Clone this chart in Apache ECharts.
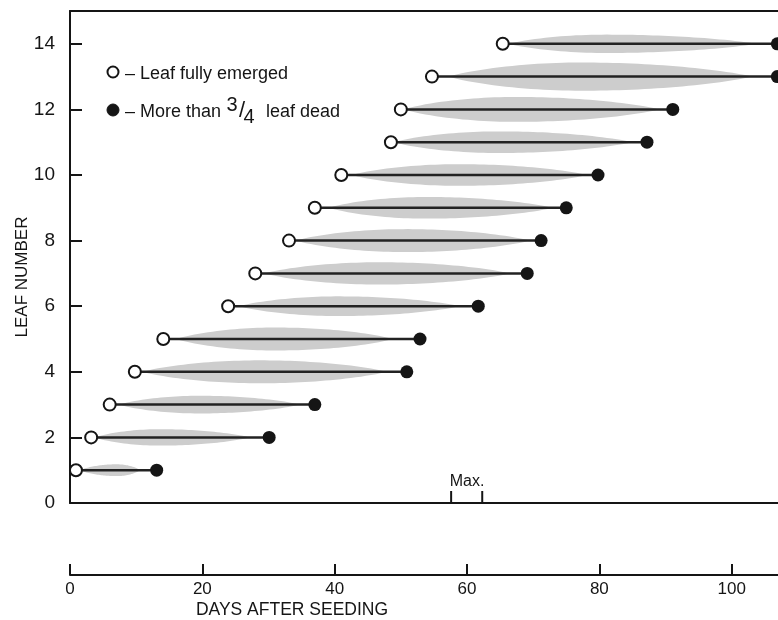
<!DOCTYPE html>
<html><head><meta charset="utf-8">
<script src="https://cdn.jsdelivr.net/npm/echarts@6/dist/echarts.min.js"></script>
<style>html,body{margin:0;padding:0;background:#fff}#c{width:778px;height:620px}</style>
</head><body><div id="c"></div>
<script>
// ---- data ----
const leaves   = [1,2,3,4,5,6,7,8,9,10,11,12,13,14];
const emerged  = [0.9,3.2,6.0,9.8,14.1,23.9,28.0,33.1,37.0,41.0,48.5,50.0,54.7,65.4];
const dead     = [13.1,30.1,37.0,50.9,52.9,61.7,69.1,71.2,75.0,79.8,87.2,91.1,106.9,106.9];
// spindle (leaf area band): start, widest point, end (days) and half-width (leaf units)
const spStart  = [1.5,3.8,7.5,11.0,16.1,25.6,29.4,34.2,39.2,42.7,49.0,50.5,57.3,66.4];
const spPeak   = [7.1,13.6,19.6,28.7,31.2,40.7,46.8,50.8,53.8,58.8,64.9,67.4,77.4,81.0];
const spEnd    = [10.6,27.1,34.7,47.8,48.7,58.8,66.4,69.4,72.9,78.0,84.9,89.0,103.0,103.6];
const spHalf   = [0.18,0.25,0.27,0.35,0.35,0.30,0.34,0.35,0.33,0.33,0.33,0.38,0.43,0.28];
const maxMarks = [57.6, 62.3];
const xTickStep = 20, yTickStep = 2;

const FONT = 'Liberation Sans';
const INK = '#151515';

const chart = echarts.init(document.getElementById('c'), null, {renderer:'canvas'});

const spData = leaves.map((l,i)=>[l, spStart[i], spPeak[i], spEnd[i], spHalf[i]]);
const lineData = leaves.map((l,i)=>[l, emerged[i], dead[i]]);

chart.setOption({
  animation:false,
  backgroundColor:'#fff',
  grid:{left:70, top:11, width:708, height:492},
  xAxis:[
    {type:'value', min:0, max:107, position:'bottom',
     axisLine:{show:true, onZero:false, lineStyle:{color:INK, width:2}},
     axisTick:{show:false}, axisLabel:{show:false}, splitLine:{show:false}},
    {type:'value', min:0, max:107, interval:xTickStep, position:'bottom', offset:72,
     axisLine:{show:true, onZero:false, lineStyle:{color:INK, width:2}},
     axisTick:{show:true, inside:true, length:11, lineStyle:{color:INK, width:2}},
     axisLabel:{show:true, margin:6, fontSize:17, color:INK, fontFamily:FONT, showMaxLabel:false,
       formatter:v=> (v%xTickStep===0 ? String(v) : '')},
     splitLine:{show:false}},
    {type:'value', min:0, max:107, position:'top',
     axisLine:{show:true, onZero:false, lineStyle:{color:INK, width:2}},
     axisTick:{show:false}, axisLabel:{show:false}, splitLine:{show:false}}
  ],
  yAxis:{type:'value', min:0, max:15, interval:yTickStep,
    axisLine:{show:true, onZero:false, lineStyle:{color:INK, width:2}},
    axisTick:{show:true, inside:true, length:12, lineStyle:{color:INK, width:2}},
    axisLabel:{margin:15, fontSize:19, color:INK, fontFamily:FONT, showMaxLabel:false,
      formatter:v=> (v%yTickStep===0 ? String(v) : '')},
    splitLine:{show:false}},
  graphic:[
    {type:'text', x:22, y:277, rotation:Math.PI/2, z:10,
     style:{text:'LEAF NUMBER', font:'17px '+FONT, fill:INK, textAlign:'center', textVerticalAlign:'middle'}},
    {type:'text', x:292, y:610, z:10,
     style:{text:'DAYS AFTER SEEDING', font:'17.5px '+FONT, fill:INK, textAlign:'center', textVerticalAlign:'middle'}},
    {type:'circle', shape:{cx:113, cy:72, r:5.5}, style:{fill:'#fff', stroke:INK, lineWidth:2}, z:10},
    {type:'text', x:125, y:74, z:10,
     style:{text:'\u2013 Leaf fully emerged', font:'18px '+FONT, fill:INK, textVerticalAlign:'middle'}},
    {type:'circle', shape:{cx:113, cy:110, r:6}, style:{fill:INK, stroke:INK, lineWidth:1}, z:10},
    {type:'text', x:125, y:112, z:10,
     style:{text:'\u2013 More than', font:'18px '+FONT, fill:INK, textVerticalAlign:'middle'}},
    {type:'text', x:232, y:105, z:10,
     style:{text:'3', font:'20px '+FONT, fill:INK, textAlign:'center', textVerticalAlign:'middle'}},
    {type:'text', x:242, y:111, z:10,
     style:{text:'/', font:'22px '+FONT, fill:INK, textAlign:'center', textVerticalAlign:'middle'}},
    {type:'text', x:249, y:117, z:10,
     style:{text:'4', font:'20px '+FONT, fill:INK, textAlign:'center', textVerticalAlign:'middle'}},
    {type:'text', x:266, y:112, z:10,
     style:{text:'leaf dead', font:'18px '+FONT, fill:INK, textVerticalAlign:'middle'}},
    {type:'text', x:467, y:482, z:10,
     style:{text:'Max.', font:'16px '+FONT, fill:INK, textAlign:'center', textVerticalAlign:'middle'}}
  ],
  series:[
    {type:'custom', name:'spindle', xAxisIndex:0, data:spData, encode:{x:[1,3], y:0}, z:1, silent:true,
     renderItem:(params, api)=>{
       const y=api.value(0), s=api.value(1), p=api.value(2), e=api.value(3), h=api.value(4);
       const N=48, top=[], bot=[];
       for(let k=0;k<=N;k++){
         const x=s+(e-s)*k/N;
         const u = x<p ? (x-p)/(p-s) : (x-p)/(e-p);
         const f = Math.pow(Math.max(0, 1-u*u), 0.85);
         top.push(api.coord([x, y+h*f]));
         bot.push(api.coord([x, y-h*f]));
       }
       return {type:'polygon', shape:{points: top.concat(bot.reverse())},
               style:{fill:'#cdcdcd'}};
     }},
    {type:'custom', name:'duration', xAxisIndex:0, data:lineData, encode:{x:[1,2], y:0}, z:2, silent:true,
     renderItem:(params, api)=>{
       const a=api.coord([api.value(1), api.value(0)]), b=api.coord([api.value(2), api.value(0)]);
       return {type:'line', shape:{x1:a[0], y1:a[1], x2:b[0], y2:b[1]},
               style:{stroke:'#222', lineWidth:2.5}};
     }},
    {type:'scatter', name:'Leaf fully emerged', xAxisIndex:0, clip:false, z:3,
     data:leaves.map((l,i)=>[emerged[i], l]), symbol:'circle', symbolSize:12,
     itemStyle:{color:'#fff', borderColor:INK, borderWidth:2, opacity:1}},
    {type:'scatter', name:'More than 3/4 leaf dead', xAxisIndex:0, clip:false, z:3,
     data:leaves.map((l,i)=>[dead[i], l]), symbol:'circle', symbolSize:13,
     itemStyle:{color:INK, borderColor:INK, borderWidth:0, opacity:1}},
    {type:'custom', name:'max', xAxisIndex:0, data:maxMarks.map(m=>[m,0]), encode:{x:0, y:1}, z:4, silent:true,
     renderItem:(params, api)=>{
       const p=api.coord([api.value(0), api.value(1)]);
       return {type:'line', shape:{x1:p[0], y1:p[1], x2:p[0], y2:p[1]-12},
               style:{stroke:INK, lineWidth:2}};
     }}
  ]
});
</script></body></html>
